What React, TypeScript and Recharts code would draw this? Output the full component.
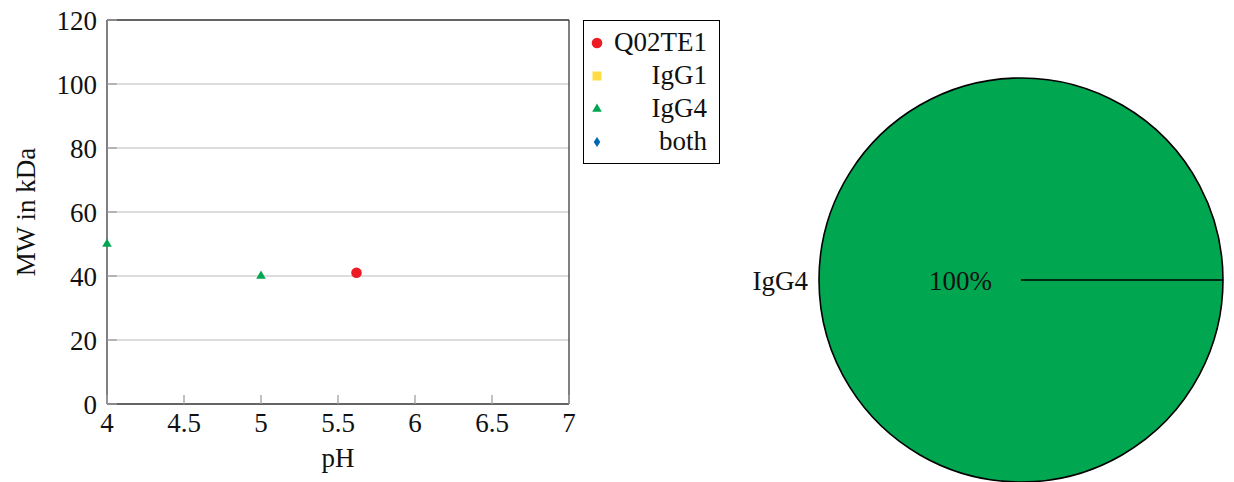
import React from "react";
import {
  ScatterChart,
  Scatter,
  XAxis,
  YAxis,
  CartesianGrid,
  Legend,
  PieChart,
  Pie,
  Cell,
} from "recharts";

type Point = { ph: number; mw: number };

// scatter series (pH vs MW)
const q02te1: Point[] = [{ ph: 5.62, mw: 41 }];
const igg1: Point[] = [];
const igg4: Point[] = [
  { ph: 4, mw: 50 },
  { ph: 5, mw: 40 },
];
const both: Point[] = [];

const xTicks = [4, 4.5, 5, 5.5, 6, 6.5, 7];
const yTicks = [0, 20, 40, 60, 80, 100, 120];

// pie: share of subclasses
const pieNames = ["IgG4"];
const pieValues = [2];

const SERIES = [
  { name: "Q02TE1", data: q02te1, color: "#ED1C24", shape: "circle" },
  { name: "IgG1", data: igg1, color: "#FFDD45", shape: "square" },
  { name: "IgG4", data: igg4, color: "#00A650", shape: "triangle" },
  { name: "both", data: both, color: "#0068B2", shape: "diamond" },
];

const PIE_COLORS = ["#00A650"];

const FONT = "Liberation Serif, DejaVu Serif, serif";
const FS = 27;
const TICK_COLOR = "#a0a0a0";
const AXIS_COLOR = "#3c3c3c";

const Marker = ({ shape, color, cx, cy }: any) => {
  switch (shape) {
    case "circle":
      return <circle cx={cx} cy={cy} r={5.3} fill={color} />;
    case "square":
      return <rect x={cx - 4.5} y={cy - 4.5} width={9} height={9} fill={color} />;
    case "triangle":
      return (
        <polygon
          points={`${cx},${cy - 5.5} ${cx + 4.8},${cy + 2.8} ${cx - 4.8},${cy + 2.8}`}
          fill={color}
        />
      );
    default:
      return (
        <polygon
          points={`${cx},${cy - 5} ${cx + 3.3},${cy} ${cx},${cy + 5} ${cx - 3.3},${cy}`}
          fill={color}
        />
      );
  }
};

// ticks are drawn inside the plot box, labels outside
const BottomTick = ({ x, y, payload }: any) => (
  <g>
    <line x1={x} x2={x} y1={y} y2={y - 9} stroke={TICK_COLOR} strokeWidth={1.3} />
    <text x={x} y={y + 28} textAnchor="middle" fontFamily={FONT} fontSize={FS} fill="#111">
      {payload.value}
    </text>
  </g>
);

const TopTick = ({ x, y }: any) => (
  <line x1={x} x2={x} y1={y} y2={y + 9} stroke={TICK_COLOR} strokeWidth={1.3} />
);

const LeftTick = ({ x, y, payload }: any) => (
  <g>
    <line x1={x} x2={x + 10} y1={y} y2={y} stroke={TICK_COLOR} strokeWidth={1.3} />
    <text x={x - 10} y={y + 10} textAnchor="end" fontFamily={FONT} fontSize={FS} fill="#111">
      {payload.value}
    </text>
  </g>
);

const RightTick = ({ x, y }: any) => (
  <line x1={x} x2={x - 10} y1={y} y2={y} stroke={TICK_COLOR} strokeWidth={1.3} />
);

const renderLegend = () => (
  <div
    style={{
      border: "1px solid #000",
      background: "#fff",
      padding: "5px 12px 5px 6px",
      fontFamily: FONT,
      fontSize: FS,
      color: "#111",
      width: 117,
    }}
  >
    {SERIES.map((s) => (
      <div
        key={s.name}
        style={{ display: "flex", alignItems: "center", height: 33, justifyContent: "space-between" }}
      >
        <svg width={14} height={14} style={{ flex: "none" }}>
          <Marker shape={s.shape} color={s.color} cx={7} cy={7} />
        </svg>
        <span style={{ lineHeight: "33px" }}>{s.name}</span>
      </div>
    ))}
  </div>
);

const pieData = pieNames.map((name, i) => ({ name, value: pieValues[i] }));
const total = pieValues.reduce((a, b) => a + b, 0);
const RADIAN = Math.PI / 180;

const renderPieLabel = (props: any) => {
  const { cx, cy, midAngle, outerRadius, name, value } = props;
  const cos = Math.cos(-midAngle * RADIAN);
  const sin = Math.sin(-midAngle * RADIAN);
  const ix = cx + outerRadius * 0.3 * cos;
  const iy = cy + outerRadius * 0.3 * sin;
  const ox = cx + (outerRadius + 11) * cos;
  const oy = cy + (outerRadius + 11) * sin;
  return (
    <g>
      <text x={ix} y={iy + 10} textAnchor="middle" fontFamily={FONT} fontSize={FS} fill="#111">
        {`${Math.round((value / total) * 100)}%`}
      </text>
      <text
        x={ox}
        y={oy + 10}
        textAnchor={cos < 0 ? "end" : "start"}
        fontFamily={FONT}
        fontSize={FS}
        fill="#111"
      >
        {name}
      </text>
    </g>
  );
};

export default function App() {
  return (
    <div
      style={{
        position: "absolute",
        left: 0,
        top: 0,
        width: 1234,
        height: 482,
        background: "#fff",
        fontFamily: FONT,
        overflow: "hidden",
      }}
    >
      <div style={{ position: "absolute", left: 0, top: 0 }}>
        <ScatterChart width={730} height={482} margin={{ top: 19, right: 160, bottom: 0, left: 0 }}>
          <CartesianGrid horizontal vertical={false} stroke="#d2d2d2" strokeWidth={1.3} />
          <XAxis
            dataKey="ph"
            type="number"
            domain={[4, 7]}
            ticks={xTicks}
            height={78}
            tickSize={0}
            tickMargin={0}
            tickLine={false}
            tick={<BottomTick />}
            interval={0}
            axisLine={{ stroke: AXIS_COLOR, strokeWidth: 1.3 }}
            label={{
              content: ({ viewBox }: any) => (
                <text
                  x={viewBox.x + viewBox.width / 2}
                  y={viewBox.y + 63}
                  textAnchor="middle"
                  fontFamily={FONT}
                  fontSize={FS}
                  fill="#111"
                >
                  pH
                </text>
              ),
            }}
          />
          <XAxis
            xAxisId="top"
            orientation="top"
            dataKey="ph"
            type="number"
            domain={[4, 7]}
            ticks={xTicks}
            height={1}
            tickSize={0}
            tickMargin={0}
            tickLine={false}
            tick={<TopTick />}
            interval={0}
            axisLine={{ stroke: AXIS_COLOR, strokeWidth: 1.3 }}
          />
          <YAxis
            dataKey="mw"
            type="number"
            domain={[0, 120]}
            ticks={yTicks}
            width={107}
            tickSize={0}
            tickMargin={0}
            tickLine={false}
            tick={<LeftTick />}
            interval={0}
            axisLine={{ stroke: AXIS_COLOR, strokeWidth: 1.3 }}
            label={{
              content: ({ viewBox }: any) => {
                const lx = viewBox.x + 35;
                const ly = viewBox.y + viewBox.height / 2;
                return (
                  <text
                    x={lx}
                    y={ly}
                    textAnchor="middle"
                    transform={`rotate(-90 ${lx} ${ly})`}
                    fontFamily={FONT}
                    fontSize={FS}
                    fill="#111"
                  >
                    MW in kDa
                  </text>
                );
              },
            }}
          />
          <YAxis
            yAxisId="right"
            orientation="right"
            dataKey="mw"
            type="number"
            domain={[0, 120]}
            ticks={yTicks}
            width={1}
            tickSize={0}
            tickMargin={0}
            tickLine={false}
            tick={<RightTick />}
            interval={0}
            axisLine={{ stroke: AXIS_COLOR, strokeWidth: 1.3 }}
          />
          <Legend
            layout="vertical"
            align="center"
            verticalAlign="middle"
            content={renderLegend}
            wrapperStyle={{ left: 583, top: 20, width: 136 }}
          />
          {SERIES.map((s) => (
            <Scatter
              key={s.name}
              name={s.name}
              data={s.data}
              fill={s.color}
              isAnimationActive={false}
              shape={(p: any) => <Marker shape={s.shape} color={s.color} cx={p.cx} cy={p.cy} />}
            />
          ))}
        </ScatterChart>
      </div>
      <div style={{ position: "absolute", left: 730, top: 0 }}>
        <PieChart width={504} height={482} margin={{ top: 0, right: 0, bottom: 0, left: 0 }}>
          <Pie
            data={pieData}
            dataKey="value"
            nameKey="name"
            cx={291}
            cy={280}
            outerRadius={202}
            startAngle={0}
            endAngle={360}
            stroke="#000"
            strokeWidth={1.6}
            labelLine={false}
            label={renderPieLabel}
            isAnimationActive={false}
          >
            {pieData.map((_e, i) => (
              <Cell key={`cell-${i}`} fill={PIE_COLORS[i % PIE_COLORS.length]} />
            ))}
          </Pie>
        </PieChart>
      </div>
    </div>
  );
}
